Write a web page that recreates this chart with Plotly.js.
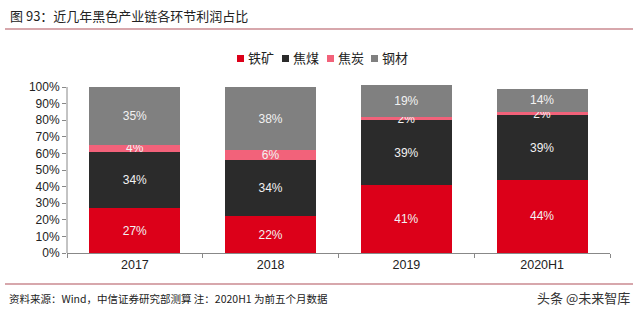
<!DOCTYPE html>
<html>
<head>
<meta charset="utf-8">
<script src="https://cdn.plot.ly/plotly-3.0.1.min.js"></script>
<style>
  html, body { margin: 0; padding: 0; background: #fff; }
  #chart { width: 640px; height: 322px; }
</style>
</head>
<body>
<div id="chart"></div>
<script>
// Profit share of each link in the ferrous chain (%)
const years = ['2017', '2018', '2019', '2020H1'];
const seriesNames = ['铁矿', '焦煤', '焦炭', '钢材'];
const ironOre = [27, 22, 41, 44];
const cokingCoal = [34, 34, 39, 39];
const coke = [4, 6, 2, 2];
const steel = [35, 38, 19, 14];
const seriesColors = ['#dc0019', '#2b2b2b', '#f2627a', '#808080'];

const FONT = '"Liberation Sans", Arial, "Noto Sans CJK SC", sans-serif';
const CJK = '"Noto Sans CJK SC", "Liberation Sans", sans-serif';

// plot area geometry (px) used to place the paper-referenced decorations
const PL = 67, PW = 543, PB = 253, PH = 168;
const px = x => (x - PL) / PW;
const py = y => (PB - y) / PH;

const seriesValues = [ironOre, cokingCoal, coke, steel];

const traces = seriesValues.map((vals, i) => ({
  type: 'bar',
  name: seriesNames[i],
  x: years,
  y: vals,
  marker: { color: seriesColors[i], line: { width: 0 } },
  text: vals.map(v => v + '%'),
  textposition: 'inside',
  insidetextanchor: 'middle',
  textangle: 0,
  textfont: { family: FONT, size: 12, color: '#f2f2f2' },
  hoverinfo: 'none',
  showlegend: false,
  cliponaxis: false
}));

// Legend: small squares followed by the series names
const legendXs = [237, 282, 327, 371];
const legendY = 58;
const shapes = [];
const annotations = [];
seriesNames.forEach((name, i) => {
  const x = legendXs[i];
  shapes.push({
    type: 'rect', xref: 'paper', yref: 'paper',
    x0: px(x), x1: px(x + 7),
    y0: py(legendY + 4), y1: py(legendY - 3),
    fillcolor: seriesColors[i], line: { width: 0 }
  });
  annotations.push({
    xref: 'paper', yref: 'paper',
    x: px(x + 9), y: py(legendY),
    xanchor: 'left', yanchor: 'middle',
    text: name, showarrow: false,
    font: { family: CJK, size: 13, color: '#222' }
  });
});

// Title and separator lines
annotations.push({
  xref: 'paper', yref: 'paper', x: px(8), y: py(16),
  xanchor: 'left', yanchor: 'middle', showarrow: false,
  text: '图 93：近几年黑色产业链各环节利润占比',
  font: { family: CJK, size: 13, color: '#222' }
});
[29, 284].forEach(y => shapes.push({
  type: 'line', xref: 'paper', yref: 'paper',
  x0: px(5), x1: px(633), y0: py(y), y1: py(y),
  line: { color: '#b0505a', width: 1.2 }
}));
annotations.push({
  xref: 'paper', yref: 'paper', x: px(7), y: py(298),
  xanchor: 'left', yanchor: 'middle', showarrow: false,
  text: '资料来源：Wind，中信证券研究部测算 注：2020H1 为前五个月数据',
  font: { family: CJK, size: 10.5, color: '#222' }
});
annotations.push({
  xref: 'paper', yref: 'paper', x: px(632), y: py(297),
  xanchor: 'right', yanchor: 'middle', showarrow: false,
  text: '头条 @未来智库',
  font: { family: CJK, size: 13, color: '#333' }
});

// vertical axis line stops at the 100% tick
shapes.push({
  type: 'line', xref: 'paper', yref: 'y',
  x0: 0, x1: 0, y0: 0, y1: 100,
  line: { color: '#888', width: 1 }
});

const layout = {
  width: 640, height: 322,
  margin: { l: PL, r: 640 - PL - PW, t: PB - PH, b: 322 - PB, pad: 0 },
  paper_bgcolor: '#fff', plot_bgcolor: '#fff',
  barmode: 'stack',
  bargap: 0.33,
  uniformtext: { mode: 'show', minsize: 12 },
  showlegend: false,
  font: { family: FONT, size: 12, color: '#222' },
  xaxis: {
    type: 'category',
    range: [-0.5, 3.5],
    showline: true, linecolor: '#888', linewidth: 1,
    ticks: 'outside', tickson: 'boundaries', ticklen: 4, tickcolor: '#888',
    tickfont: { family: FONT, size: 12.5, color: '#222' },
    showgrid: false, zeroline: false, fixedrange: true
  },
  yaxis: {
    range: [0, 100 * PH / 166],
    tickvals: [0, 10, 20, 30, 40, 50, 60, 70, 80, 90, 100],
    ticktext: ['0%', '10%', '20%', '30%', '40%', '50%', '60%', '70%', '80%', '90%', '100%'],
    showline: false,
    ticks: 'outside', ticklen: 4, tickcolor: '#888',
    tickfont: { family: FONT, size: 12, color: '#222' },
    showgrid: false, zeroline: false, fixedrange: true
  },
  shapes: shapes,
  annotations: annotations
};

Plotly.newPlot('chart', traces, layout, { displayModeBar: false, staticPlot: true });
</script>
</body>
</html>
